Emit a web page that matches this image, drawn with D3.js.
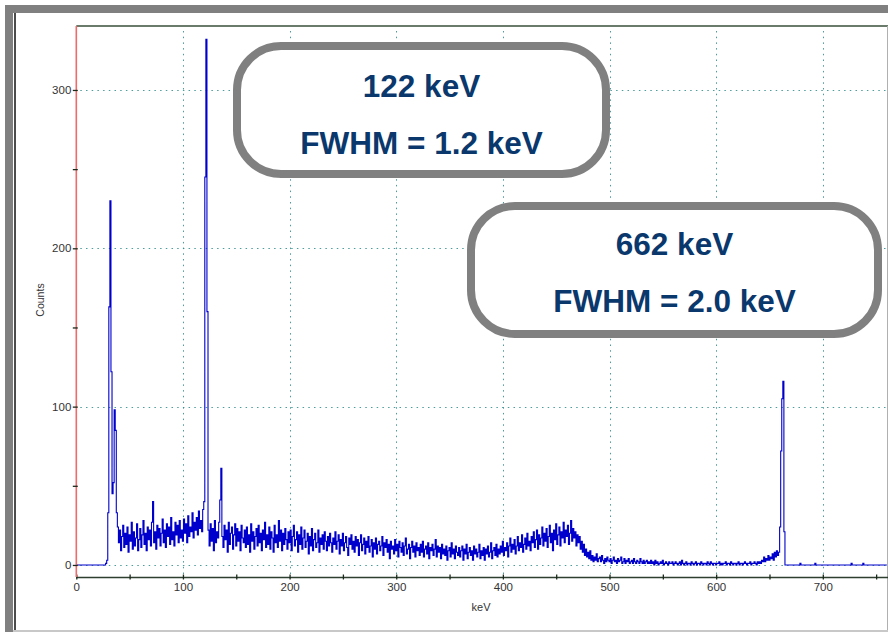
<!DOCTYPE html>
<html>
<head>
<meta charset="utf-8">
<script src="https://cdn.jsdelivr.net/npm/d3@7"></script>
<style>
  html, body { margin: 0; padding: 0; background: #ffffff; }
  svg { display: block; }
</style>
</head>
<body>
<script>
// ---------------- DATA ----------------
const energyStart = 0;   // keV of first channel
const energyStep = 1;    // keV per channel
const counts = [
  0,0,0,0,0,0,0,0,0,0,0,0,0,0,0,0,0,0,0,0,
  0,0,0,0,0,0,0,0,1,3,33,163,230,122,45,52,98,85,33,24,
  14,22,9,18,25,11,20,13,24,8,19,15,27,10,21,12,17,26,9,16,
  23,11,19,28,13,20,9,24,16,22,12,27,40,14,21,10,25,17,23,12,
  20,29,14,22,11,26,18,24,13,30,16,21,12,27,19,25,14,28,17,22,
  15,29,20,26,14,31,18,24,21,33,17,27,22,30,19,34,23,28,21,35,
  40,245,332,160,22,12,26,15,23,9,28,14,21,17,27,41,61,18,11,25,
  16,22,8,27,13,20,24,10,19,26,12,23,15,21,9,25,17,14,22,11,
  24,13,19,8,26,15,21,10,18,23,12,25,14,20,9,22,16,27,11,19,
  13,24,10,21,17,8,25,14,19,11,28,15,22,9,20,13,23,16,10,21,
  14,22,9,18,25,12,16,21,8,19,13,24,10,17,22,11,15,20,7,18,
  12,23,9,16,20,11,14,22,8,17,13,19,10,21,15,9,18,12,20,14,
  8,17,13,21,10,15,19,7,16,12,20,9,14,18,11,6,17,13,19,10,
  15,8,18,12,16,6,14,19,9,13,17,7,15,11,18,8,12,16,5,14,
  10,17,7,13,15,9,12,18,6,14,11,16,8,13,4,15,10,12,7,16,
  9,13,5,15,11,8,14,6,12,17,7,10,13,4,11,15,8,12,5,14,
  9,11,6,13,8,15,5,10,12,7,14,4,11,9,13,6,10,16,5,12,
  8,11,4,13,7,10,6,12,3,9,11,5,14,7,10,4,12,8,6,11,
  5,9,12,3,10,7,13,4,8,11,6,9,3,12,7,10,5,8,13,4,
  9,6,11,3,10,7,12,5,8,14,4,9,11,6,13,5,10,7,12,8,
  15,6,11,9,14,5,12,17,8,13,10,16,7,12,18,9,14,11,19,8,
  13,17,10,20,12,15,9,18,14,21,11,16,22,10,19,13,17,24,12,20,
  15,23,11,18,25,14,20,9,22,16,26,13,19,24,12,21,17,27,14,22,
  18,25,13,20,28,15,23,17,21,12,19,14,18,10,15,8,13,6,10,5,
  8,4,9,3,6,2,5,3,7,2,4,5,2,6,3,1,4,2,5,3,
  2,4,1,3,5,2,3,1,4,2,3,5,1,2,4,1,3,2,4,1,
  2,3,1,4,2,1,3,2,1,4,2,1,3,1,2,3,1,2,1,3,
  1,2,0,3,1,2,0,1,2,1,3,0,1,2,1,0,2,1,1,2,
  0,1,2,1,0,1,2,0,3,1,0,1,2,0,1,1,0,2,1,0,
  1,2,0,1,1,0,2,1,0,1,1,0,2,1,0,2,1,0,1,1,
  0,1,1,2,0,1,0,1,1,2,0,1,1,0,2,1,0,1,1,0,
  1,2,0,1,1,0,1,2,1,0,1,1,2,0,1,1,2,1,0,2,
  1,2,1,3,2,5,2,4,3,6,3,5,4,7,3,8,5,9,6,8,
  24,72,105,116,21,0,0,0,0,0,0,0,0,0,0,0,0,0,0,1,
  0,0,0,0,0,0,0,0,0,0,0,0,0,1,0,0,0,0,0,0,
  0,0,0,0,0,0,0,0,0,0,0,0,0,0,0,0,0,0,0,0,
  0,0,0,0,0,0,0,1,0,0,0,0,0,0,0,0,0,0,1,0,
  0,0,0,0,0,0,0,0,0,0,0,0,0,0,0,0,0,0,0,0,
  0
];
const xDomain = [0, 760];
const yDomain = [-7.6, 340.4];
const xTickLabels = [0, 100, 200, 300, 400, 500, 600, 700];
const xMinorTicks = [50, 150, 250, 350, 450, 550, 650, 750];
const yTickLabels = [0, 100, 200, 300];
const yMinorTicks = [50, 150, 250];
const xTitle = "keV";
const yTitle = "Counts";
const boxLines1 = ["122 keV", "FWHM = 1.2 keV"];
const boxLines2 = ["662 keV", "FWHM = 2.0 keV"];

// ---------------- LAYOUT ----------------
const W = 888, H = 632;
const plot = { left: 76.3, right: 886.8, top: 26, bottom: 577 };
const svg = d3.select("body").append("svg").attr("width", W).attr("height", H);

// outer frame
svg.append("rect").attr("x", 5).attr("y", 5).attr("width", W - 5).attr("height", 8).attr("fill", "#808080");
svg.append("rect").attr("x", 5).attr("y", 5).attr("width", 8).attr("height", H - 5).attr("fill", "#808080");
svg.append("line").attr("x1", 15).attr("x2", 15).attr("y1", 13).attr("y2", 630)
  .attr("stroke", "#111").attr("stroke-width", 1.5);
svg.append("rect").attr("x", 13).attr("y", 630).attr("width", W - 13).attr("height", 2).attr("fill", "#c8c8c8");

const x = d3.scaleLinear().domain(xDomain).range([plot.left, plot.right]);
const y = d3.scaleLinear().domain(yDomain).range([plot.bottom, plot.top]);

const grid = svg.append("g");
const gridColor = "#2e8b8b";
grid.selectAll("line.vg").data(xTickLabels.filter(d => d > 0)).join("line")
  .attr("x1", d => Math.round(x(d)) + 0.5).attr("x2", d => Math.round(x(d)) + 0.5)
  .attr("y1", plot.top + 5).attr("y2", plot.bottom - 2)
  .attr("stroke", gridColor).attr("stroke-width", 1).attr("stroke-dasharray", "1.5,4.2").attr("opacity", 0.85);
grid.selectAll("line.hg").data(yTickLabels).join("line")
  .attr("x1", plot.left + 4).attr("x2", plot.right)
  .attr("y1", d => Math.round(y(d)) + 0.5).attr("y2", d => Math.round(y(d)) + 0.5)
  .attr("stroke", gridColor).attr("stroke-width", 1).attr("stroke-dasharray", "1.5,4.2").attr("opacity", 0.85);

// spectrum
const spectrum = counts.map((c, i) => ({ e: energyStart + i * energyStep, c }));
const line = d3.line().x(d => x(d.e)).y(d => y(d.c)).curve(d3.curveStep);
svg.append("path").datum(spectrum).attr("d", line)
  .attr("fill", "none").attr("stroke", "#0000cc").attr("stroke-width", 1.1);

// frame lines of plot
svg.append("line").attr("x1", plot.left).attr("x2", W).attr("y1", plot.top).attr("y2", plot.top)
  .attr("stroke", "#3a4f3a").attr("stroke-width", 1.5);
svg.append("line").attr("x1", 887.5).attr("x2", 887.5).attr("y1", plot.top).attr("y2", 630)
  .attr("stroke", "#b0b0b0").attr("stroke-width", 1);

// x axis
const xAxis = d3.axisBottom(x).tickValues(xTickLabels.concat(xMinorTicks))
  .tickFormat(d => xTickLabels.includes(d) ? d : "").tickSize(2.5).tickSizeOuter(0);
const gx = svg.append("g").attr("transform", `translate(0,${plot.bottom})`).call(xAxis);
gx.select(".domain").attr("stroke", "#2f3f2f").attr("stroke-width", 1.5)
  .attr("d", `M${plot.left},0.5H${W}`);
gx.selectAll(".tick line").attr("y1", -2.5).attr("stroke", "#1a2a1a").attr("stroke-width", 1.3);
gx.selectAll(".tick text").attr("y", 6).attr("font-family", "Liberation Sans, Arial, sans-serif")
  .attr("font-size", 11.5).attr("fill", "#333");

// y axis
const yAxis = d3.axisLeft(y).tickValues(yTickLabels.concat(yMinorTicks))
  .tickFormat(d => yTickLabels.includes(d) ? d : "").tickSize(3.5).tickSizeOuter(0);
const gy = svg.append("g").attr("transform", `translate(${plot.left},0)`).call(yAxis);
gy.select(".domain").attr("stroke", "#f06a6a").attr("stroke-width", 1.6)
  .attr("d", `M0,${plot.top}V${plot.bottom}`);
gy.selectAll(".tick line").attr("x2", -3.5).attr("x1", 1.5).attr("stroke", "#1a2a1a").attr("stroke-width", 1.3);
gy.selectAll(".tick text").attr("x", -5).attr("font-family", "Liberation Sans, Arial, sans-serif")
  .attr("font-size", 11.5).attr("fill", "#333");

// axis titles
svg.append("text").attr("x", 481).attr("y", 611).attr("text-anchor", "middle")
  .attr("font-family", "Liberation Sans, Arial, sans-serif").attr("font-size", 11).attr("fill", "#333").text(xTitle);
svg.append("text").attr("transform", "translate(44,300) rotate(-90)").attr("text-anchor", "middle")
  .attr("font-family", "Liberation Sans, Arial, sans-serif").attr("font-size", 10.5).attr("fill", "#333").text(yTitle);

// annotation boxes
function box(bx, by, bw, bh, lines, baselines) {
  const g = svg.append("g");
  g.append("rect").attr("x", bx).attr("y", by).attr("width", bw).attr("height", bh)
    .attr("rx", 44).attr("ry", 44).attr("fill", "#fff").attr("stroke", "#808080").attr("stroke-width", 8);
  lines.forEach((t, i) => {
    g.append("text").attr("x", bx + bw / 2).attr("y", baselines[i]).attr("text-anchor", "middle")
      .attr("font-family", "Liberation Sans, Arial, sans-serif").attr("font-weight", "bold")
      .attr("font-size", 31.5).attr("fill", "#0a386c").text(t);
  });
}
box(237, 46, 369, 128, boxLines1, [97, 154]);
box(471, 206, 407, 128, boxLines2, [255, 312]);
</script>
</body>
</html>
